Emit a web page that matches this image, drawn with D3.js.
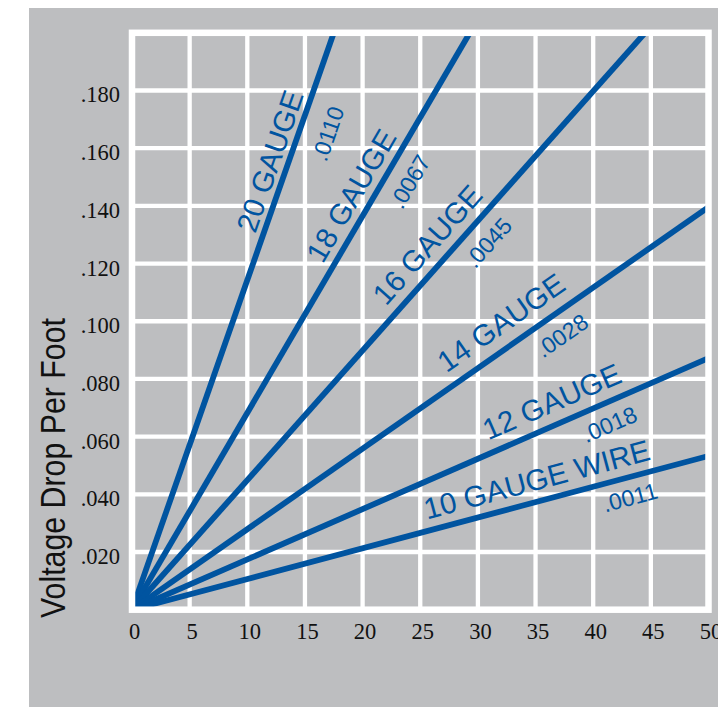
<!DOCTYPE html>
<html>
<head>
<meta charset="utf-8">
<script src="https://cdn.jsdelivr.net/npm/d3@7"></script>
<style>
  body { margin: 0; background: #ffffff; }
  svg { display: block; }
</style>
</head>
<body>
<div id="chart"></div>
<script>
// axis ticks
const xTicks = [0, 5, 10, 15, 20, 25, 30, 35, 40, 45, 50];
const yTicks = [0.02, 0.04, 0.06, 0.08, 0.10, 0.12, 0.14, 0.16, 0.18];
const yTickLabels = [".020", ".040", ".060", ".080", ".100", ".120", ".140", ".160", ".180"];

// gauge lines: each runs from the origin to its end point
const gauges = ["20 GAUGE", "18 GAUGE", "16 GAUGE", "14 GAUGE", "12 GAUGE", "10 GAUGE WIRE"];
const dropPerFoot = [".0110", ".0067", ".0045", ".0028", ".0018", ".0011"];
const endX = [17.5, 29.3, 44.5, 50, 50, 50];
const endY = [0.200, 0.200, 0.200, 0.1396, 0.0872, 0.0533];

// label anchors, in data units
const nameAt = [[11.95, 0.1555], [19.0, 0.1436], [25.6, 0.1266], [32.0, 0.0996], [36.4, 0.0722], [35.1, 0.0452]];
const valueAt = [[17.0, 0.1650], [24.1, 0.1484], [30.9, 0.1272], [37.3, 0.0950], [41.4, 0.0642], [43.2, 0.0389]];

const W = 718, H = 707;
const blue = "#0054a0", gray = "#bdbec0";

const svg = d3.select("#chart").append("svg")
    .attr("width", W)
    .attr("height", H);

// gray panel
svg.append("rect")
    .attr("x", 29).attr("y", 8)
    .attr("width", W - 29).attr("height", H - 8)
    .attr("fill", gray);

const x = d3.scaleLinear().domain([0, 50]).range([132, 708.5]);
const y = d3.scaleLinear().domain([0, 0.2]).range([609.7, 32.8]);

// clip for the plot interior
svg.append("clipPath").attr("id", "inner")
  .append("rect")
    .attr("x", x(0)).attr("y", y(0.2))
    .attr("width", x(50) - x(0)).attr("height", y(0) - y(0.2));

// grid
const grid = svg.append("g").attr("stroke", "#fff").attr("stroke-width", 4.3);
grid.selectAll("line.v")
    .data(xTicks.slice(1, -1))
    .enter().append("line")
    .attr("class", "v")
    .attr("x1", d => x(d)).attr("x2", d => x(d))
    .attr("y1", y(0.2)).attr("y2", y(0));
grid.selectAll("line.h")
    .data(yTicks)
    .enter().append("line")
    .attr("class", "h")
    .attr("x1", x(0)).attr("x2", x(50))
    .attr("y1", d => y(d)).attr("y2", d => y(d));

// gauge lines
const line = d3.line().x(d => x(d[0])).y(d => y(d[1]));
svg.append("g")
    .attr("clip-path", "url(#inner)")
  .selectAll("path")
    .data(gauges.map((g, i) => [[0, 0], [endX[i], endY[i]]]))
    .enter().append("path")
    .attr("d", line)
    .attr("fill", "none")
    .attr("stroke", blue)
    .attr("stroke-width", 5.8);

// white frame
svg.append("rect")
    .attr("x", x(0)).attr("y", y(0.2))
    .attr("width", x(50) - x(0)).attr("height", y(0) - y(0.2))
    .attr("fill", "none")
    .attr("stroke", "#fff")
    .attr("stroke-width", 6.5);

// angle of each line on screen
function angle(i) {
  return Math.atan2(y(endY[i]) - y(0), x(endX[i]) - x(0)) * 180 / Math.PI;
}

// gauge names and drop values
const labels = svg.append("g")
    .attr("fill", blue)
    .attr("font-family", "'Liberation Sans', Arial, sans-serif")
    .attr("text-anchor", "middle")
    .attr("dominant-baseline", "central");
labels.selectAll("text.name")
    .data(gauges)
    .enter().append("text")
    .attr("class", "name")
    .attr("font-size", 29.5)
    .attr("transform", (d, i) => "translate(" + x(nameAt[i][0]) + "," + y(nameAt[i][1]) + ") rotate(" + angle(i) + ")")
    .text(d => d);
labels.selectAll("text.val")
    .data(dropPerFoot)
    .enter().append("text")
    .attr("class", "val")
    .attr("font-size", 23)
    .attr("transform", (d, i) => "translate(" + x(valueAt[i][0]) + "," + y(valueAt[i][1]) + ") rotate(" + angle(i) + ")")
    .text(d => d);

// tick labels
const tickFont = "'Liberation Serif', 'Times New Roman', serif";
svg.append("g").selectAll("text")
    .data(xTicks)
    .enter().append("text")
    .attr("x", d => x(d) + 2.5)
    .attr("y", 639)
    .attr("text-anchor", "middle")
    .attr("font-family", tickFont)
    .attr("font-size", 22.5)
    .attr("fill", "#111")
    .text(d => d);
svg.append("g").selectAll("text")
    .data(yTicks)
    .enter().append("text")
    .attr("x", 120)
    .attr("y", d => y(d) + 12)
    .attr("text-anchor", "end")
    .attr("font-family", tickFont)
    .attr("font-size", 22.5)
    .attr("fill", "#111")
    .text((d, i) => yTickLabels[i]);

// y axis title
svg.append("text")
    .attr("transform", "translate(64.5,468) rotate(-90)")
    .attr("text-anchor", "middle")
    .attr("font-family", "'Liberation Sans', Arial, sans-serif")
    .attr("font-size", 35)
    .attr("textLength", 300)
    .attr("lengthAdjust", "spacingAndGlyphs")
    .attr("fill", "#111")
    .text("Voltage Drop Per Foot");
</script>
</body>
</html>
